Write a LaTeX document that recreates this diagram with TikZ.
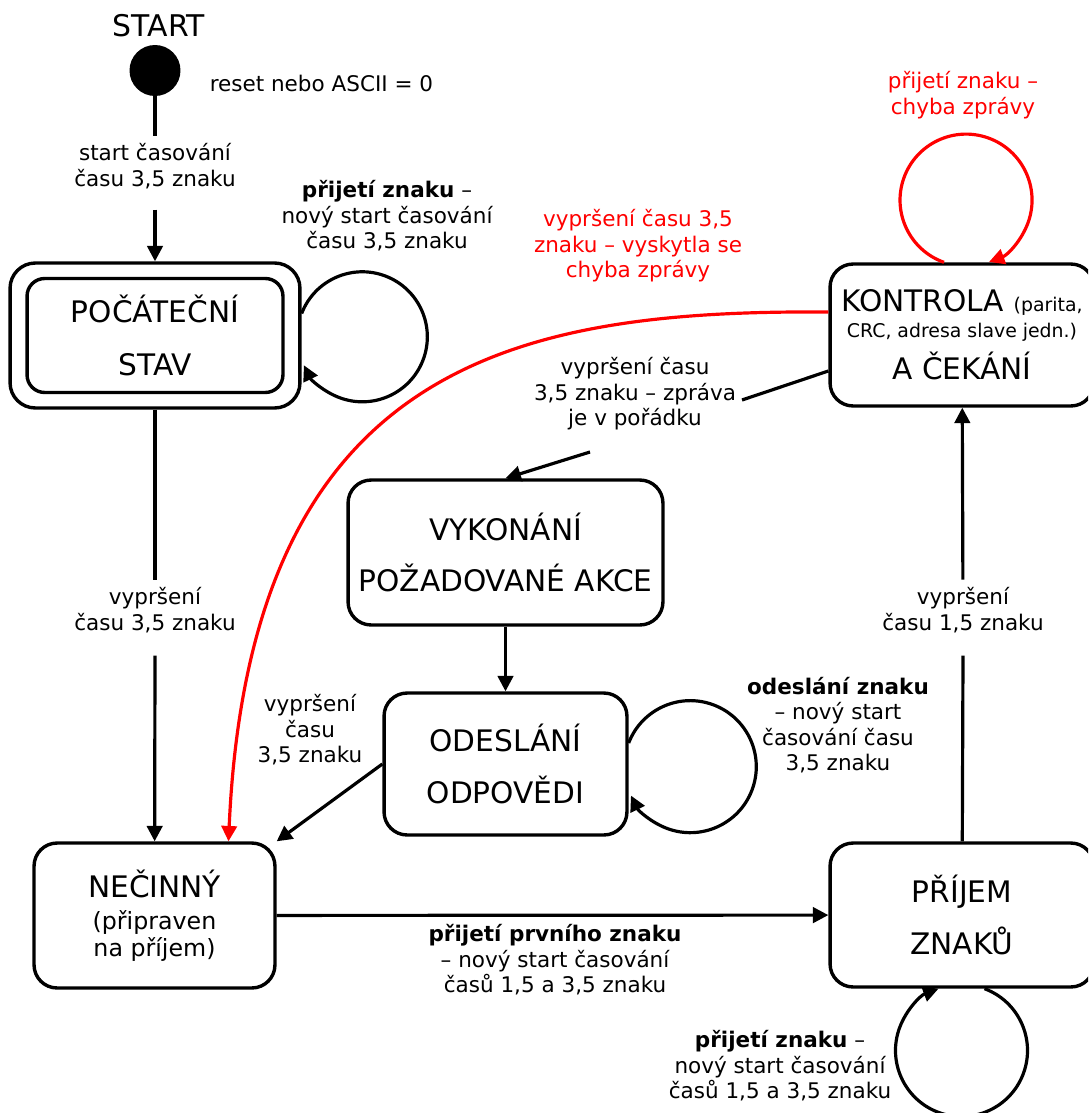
\documentclass[tikz, border = 0pt]{standalone}
\usepackage{fontspec}
\setmainfont{DejaVu Sans}
\usetikzlibrary{
    arrows.meta,
    calc
}
\tikzset {
    state/.style = {
        draw, rectangle, rounded corners = 10.5pt, line width = 1.55pt,
        align = center, inner sep = 0pt,
        font = \fontsize{13.5}{24}\selectfont
    },
    start dot/.style = {circle, fill, inner sep = 0pt, minimum size = 0.816cm},
    edge text/.style = {align = center, font = \fontsize{9.8}{11.6}\selectfont},
    plain line/.style = {line width = 1.45pt},
    arrow line/.style = {
        line width = 1.45pt,
        arrows = {-Triangle[length = 7pt, width = 7pt]}
    },
    error line/.style = {red}
}

\begin{document}
\begin{tikzpicture}[x = 0.016cm, y = -0.016cm]
    \useasboundingbox (0, 0) rectangle (1088, 1113);
    \clip (0, 0) rectangle (1088, 1113);
    \node (startText) [font = \fontsize{13.6}{16}\selectfont] at (159, 26) {START};
    \node (start) [start dot] at (155, 70.5) {};
    \node (reset) [edge text, anchor = base west] at (202, 92) {reset nebo ASCII = 0};
    \node (pocatecni) [state, minimum width = 4.64cm, minimum height = 2.32cm, rounded corners = 11.5pt] at (155, 335.5) {};
    \node (pocatecniIn) [state, minimum width = 4.096cm, minimum height = 1.824cm, rounded corners = 8pt] at (155, 335.5) {POČÁTEČNÍ\\[0.5pt]STAV};
    \node (kontrola) [state, minimum width = 4.224cm, minimum height = 2.272cm] at (962, 335) {KONTROLA {\fontsize{8.6}{10}\selectfont (parita,}\\[-12.2pt]{\fontsize{8.6}{10}\selectfont CRC, adresa slave jedn.)}\\[-5pt]A ČEKÁNÍ};
    \node (vykonani) [state, minimum width = 5.04cm, minimum height = 2.32cm] at (505.5, 552.5) {VYKONÁNÍ\\[-0.5pt]POŽADOVANÉ AKCE};
    \node (odeslani) [state, minimum width = 3.888cm, minimum height = 2.272cm] at (505.5, 764) {ODESLÁNÍ\\[-0.5pt]ODPOVĚDI};
    \node (necinny) [state, minimum width = 3.856cm, minimum height = 2.32cm] at (154.5, 915.5) {NEČINNÝ\\[-9.5pt]{\fontsize{10.8}{12}\selectfont (připraven}\\[-11.8pt]{\fontsize{10.8}{12}\selectfont na příjem)}};
    \node (prijem) [state, minimum width = 4.224cm, minimum height = 2.304cm] at (962, 915) {PŘÍJEM\\ZNAKŮ};

    \node (labStart) [edge text] at (155, 166) {start časování\\času 3,5 znaku};
    \node (labLoopP) [edge text] at (387, 216) {\textbf{přijetí znaku} –\\nový start časování\\času 3,5 znaku};
    \node (labError) [edge text, error line] at (638, 246) {vypršení času 3,5\\znaku – vyskytla se\\chyba zprávy};
    \node (labLoopK) [edge text, error line] at (963, 95) {přijetí znaku –\\chyba zprávy};
    \node (labOk) [edge text] at (635, 394) {vypršení času\\3,5 znaku – zpráva\\je v pořádku};
    \node (labIdle) [edge text] at (155, 610) {vypršení\\času 3,5 znaku};
    \node (labCheck) [edge text] at (963, 610) {vypršení\\času 1,5 znaku};
    \node (labReply) [edge text] at (310, 730) {vypršení\\času\\3,5 znaku};
    \node (labLoopO) [edge text] at (838, 725) {\textbf{odeslání znaku}\\– nový start\\časování času\\3,5 znaku};
    \node (labFirst) [edge text] at (555, 960) {\textbf{přijetí prvního znaku}\\– nový start časování\\časů 1,5 a 3,5 znaku};
    \node (labLoopR) [edge text] at (780, 1066) {\textbf{přijetí znaku} –\\nový start časování\\časů 1,5 a 3,5 znaku};
    \coordinate (okA) at (742, 400);
    \coordinate (okB) at (590, 452);

    \draw [plain line] (start) -- (labStart.north);
    \draw [arrow line] ([yshift = -6pt]labStart.south) -- (pocatecni);
    \draw [plain line] (pocatecni) -- (labIdle.north);
    \draw [arrow line] ([yshift = -7pt]labIdle.south) -- (necinny);
    \draw [arrow line] ($(pocatecni.east) + (0, -22)$) arc [start angle = -159, end angle = 154, radius = 65];
    \draw [arrow line, error line] ($(kontrola.west) + (0, -23)$) .. controls (520, 310) and (250, 360) .. ($(necinny.north) + (74, 0)$);
    \draw [arrow line, error line] ($(kontrola.north) + (-18, 0)$) arc [start angle = 109.5, end angle = 429.6, radius = 66];
    \draw [plain line] ($(kontrola.west) + (0, 36)$) -- (okA);
    \draw [arrow line] (okB) -- (vykonani.north);
    \draw [arrow line] (vykonani) -- (odeslani);
    \draw [arrow line] ($(odeslani.east) + (0, -21)$) arc [start angle = -159, end angle = 154, radius = 66];
    \draw [arrow line] (odeslani.west) -- (necinny.north east);
    \draw [arrow line] (necinny) -- (prijem);
    \draw [plain line] (prijem) -- ([yshift = -7pt]labCheck.south);
    \draw [arrow line] (labCheck) -- (kontrola);
    \draw [arrow line] ($(prijem.south) + (22.5, 0)$) arc [start angle = -69.6, end angle = 249.6, radius = 66];
\end{tikzpicture}
\end{document}
